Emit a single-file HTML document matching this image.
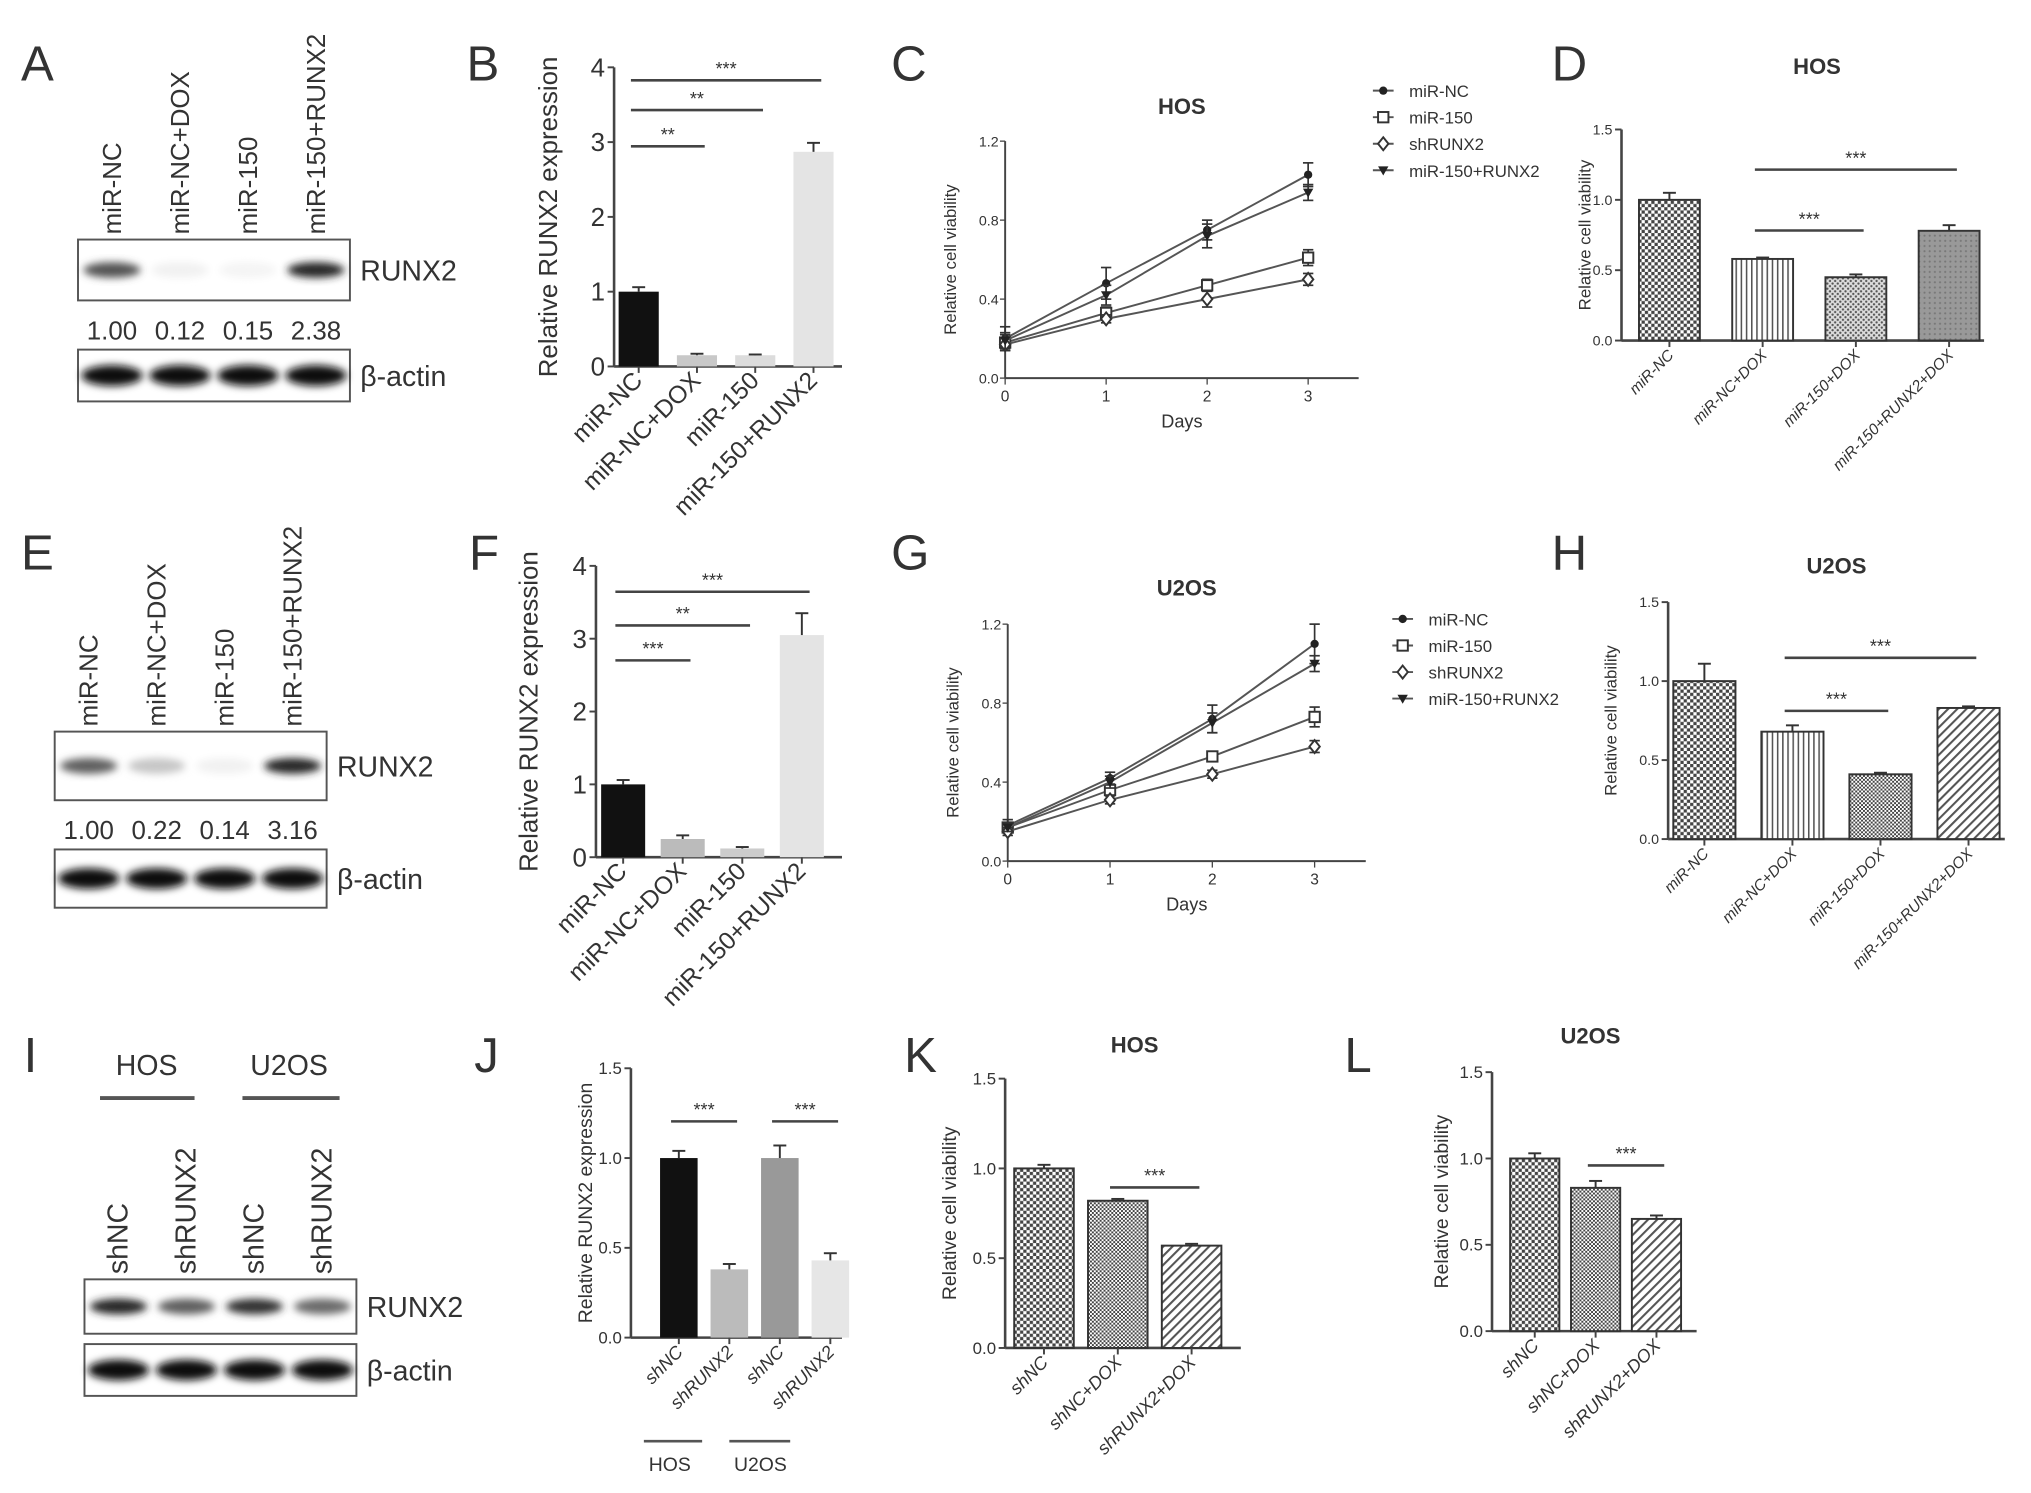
<!DOCTYPE html>
<html><head><meta charset="utf-8"><style>
html,body{margin:0;padding:0;background:#fff}
svg{display:block}
text{font-family:"Liberation Sans",sans-serif;fill:#333}
</style></head><body>
<svg id="fig" width="2031" height="1493" viewBox="0 0 1568 1153" xmlns="http://www.w3.org/2000/svg">
<defs>
<pattern id="pCheck" width="5" height="5" patternUnits="userSpaceOnUse"><rect width="5" height="5" fill="#fff"/><rect width="2.5" height="2.5" fill="#444"/><rect x="2.5" y="2.5" width="2.5" height="2.5" fill="#444"/></pattern>
<pattern id="pVert" width="4" height="4" patternUnits="userSpaceOnUse"><rect width="4" height="4" fill="#fff"/><rect width="1.2" height="4" fill="#555"/></pattern>
<pattern id="pDots" width="4" height="4" patternUnits="userSpaceOnUse"><rect width="4" height="4" fill="#ddd"/><circle cx="1" cy="1" r="0.9" fill="#555"/><circle cx="3" cy="3" r="0.9" fill="#555"/></pattern>
<pattern id="pGray" width="4" height="4" patternUnits="userSpaceOnUse"><rect width="4" height="4" fill="#999"/><circle cx="2" cy="2" r="0.8" fill="#777"/></pattern>
<pattern id="pDiag" width="5" height="5" patternUnits="userSpaceOnUse" patternTransform="rotate(45)"><rect width="5" height="5" fill="#fff"/><rect width="1.6" height="5" fill="#555"/></pattern>
<pattern id="pDense" width="3" height="3" patternUnits="userSpaceOnUse"><rect width="3" height="3" fill="#fff"/><rect width="1.5" height="1.5" fill="#444"/><rect x="1.5" y="1.5" width="1.5" height="1.5" fill="#444"/></pattern>
<filter id="blur" x="-20%" y="-50%" width="140%" height="200%"><feGaussianBlur stdDeviation="3"/></filter>
</defs>
</svg>
<script>
// ---------- data ----------
const bCats=["miR-NC","miR-NC+DOX","miR-150","miR-150+RUNX2"];
const bVals=[1.0,0.15,0.15,2.87];
const bErr=[0.06,0.02,0.01,0.12];
const fVals=[1.0,0.25,0.12,3.05];
const fErr=[0.06,0.05,0.02,0.30];
const dCats=["miR-NC","miR-NC+DOX","miR-150+DOX","miR-150+RUNX2+DOX"];
const dVals=[1.0,0.58,0.45,0.78];
const dErr=[0.05,0.01,0.02,0.04];
const hVals=[1.0,0.68,0.41,0.83];
const hErr=[0.11,0.04,0.01,0.01];
const jCats=["shNC","shRUNX2","shNC","shRUNX2"];
const jVals=[1.0,0.38,1.0,0.43];
const jErr=[0.04,0.03,0.07,0.04];
const kCats=["shNC","shNC+DOX","shRUNX2+DOX"];
const kVals=[1.0,0.82,0.57];
const kErr=[0.02,0.01,0.01];
const lVals=[1.0,0.83,0.65];
const lErr=[0.03,0.04,0.02];
const days=[0,1,2,3];
const seriesNames=["miR-NC","miR-150","shRUNX2","miR-150+RUNX2"];
const cNC=[0.20,0.48,0.75,1.03], cNCe=[0.06,0.08,0.05,0.06];
const c150=[0.18,0.33,0.47,0.61], c150e=[0.04,0.03,0.03,0.04];
const cSh=[0.17,0.30,0.40,0.50], cShe=[0.03,0.02,0.04,0.03];
const cCombo=[0.19,0.42,0.72,0.94], cComboe=[0.04,0.05,0.06,0.04];
const gNC=[0.18,0.42,0.72,1.10], gNCe=[0.03,0.03,0.07,0.10];
const g150=[0.17,0.36,0.53,0.73], g150e=[0.02,0.02,0.02,0.05];
const gSh=[0.15,0.31,0.44,0.58], gShe=[0.02,0.02,0.02,0.03];
const gCombo=[0.17,0.40,0.70,1.00], gComboe=[0.02,0.03,0.05,0.04];
const ticks4=[0,1,2,3,4];
const ticks15=[0,0.5,1.0,1.5];
const ticks12=[0,0.4,0.8,1.2];
const aBands=[0.75,0.06,0.05,0.95], aNums=["1.00","0.12","0.15","2.38"];
const eBands=[0.7,0.25,0.06,0.95], eNums=["1.00","0.22","0.14","3.16"];
const iBands=[0.95,0.7,0.9,0.65];

// ---------- helpers ----------
const svg=document.getElementById('fig');
const NS="http://www.w3.org/2000/svg";
function mk(tag,attrs,parent){const e=document.createElementNS(NS,tag);for(const k in attrs)e.setAttribute(k,attrs[k]);(parent||svg).appendChild(e);return e;}
function txt(s,x,y,size,opts,parent){opts=opts||{};const t=mk('text',{x:x,y:y,'font-size':size,'text-anchor':opts.anchor||'start'},parent);if(opts.rot)t.setAttribute('transform','rotate('+opts.rot+' '+x+' '+y+')');if(opts.italic)t.setAttribute('font-style','italic');if(opts.bold)t.setAttribute('font-weight','bold');if(opts.fill)t.setAttribute('fill',opts.fill);t.textContent=s;return t;}
function grp(name){const g=mk('g',{});return g;}

function panelLetter(L,x,y){const t=txt(L,x,y,38,{fill:'#222'});}

function blot(name,x0,boxW,yTop,labels,bands,nums,labSize,runxY,actinY){
  const g=grp(name);
  const step=boxW/4;
  labels.forEach((s,i)=>{const cx=x0+step*(i+0.5)+7;txt(s,cx,yTop-4,labSize,{rot:-90},g);});
  mk('rect',{x:x0,y:yTop,width:boxW,height:runxY,fill:'#fff',stroke:'#555','stroke-width':1.5},g);
  bands.forEach((v,i)=>{const cx=x0+step*(i+0.5);const c=Math.round(255-v*230);mk('ellipse',{cx:cx,cy:yTop+runxY/2,rx:step*0.42,ry:6,fill:'rgb('+c+','+c+','+c+')',filter:'url(#blur)'},g);});
  txt('RUNX2',x0+boxW+8,yTop+runxY/2+8,22,{},g);
  let y2=yTop+runxY+8;
  if(nums){nums.forEach((s,i)=>txt(s,x0+step*(i+0.5),yTop+runxY+30,20,{anchor:'middle'},g));y2=yTop+runxY+38;}
  mk('rect',{x:x0,y:y2,width:boxW,height:actinY,fill:'#fff',stroke:'#555','stroke-width':1.5},g);
  for(let i=0;i<4;i++){mk('ellipse',{cx:x0+step*(i+0.5),cy:y2+actinY/2,rx:step*0.45,ry:8,fill:'#111',filter:'url(#blur)'},g);}
  txt('β-actin',x0+boxW+8,y2+actinY/2+8,22,{},g);
}

function barChart(cfg){
  const g=grp(cfg.name);
  const ys=v=>cfg.y0-(v/cfg.ymax)*(cfg.y0-cfg.ytop);
  mk('line',{x1:cfg.ax,y1:cfg.y0,x2:cfg.ax,y2:cfg.ytop,stroke:'#444','stroke-width':2},g);
  mk('line',{x1:cfg.ax,y1:cfg.y0,x2:cfg.xend,y2:cfg.y0,stroke:'#444','stroke-width':2},g);
  cfg.ticks.forEach(t=>{const y=ys(t);mk('line',{x1:cfg.ax-5,y1:y,x2:cfg.ax,y2:y,stroke:'#444','stroke-width':1.5},g);txt(cfg.fmt(t),cfg.ax-7,y+cfg.tfs*0.35,cfg.tfs,{anchor:'end'},g);});
  txt(cfg.ylabel,cfg.ylx,(cfg.y0+cfg.ytop)/2,cfg.yfs,{anchor:'middle',rot:-90},g);
  if(cfg.title)txt(cfg.title,cfg.tx,cfg.ty,17,{anchor:'middle',bold:true},g);
  cfg.vals.forEach((v,i)=>{
    const cx=cfg.x0+cfg.step*i;const y=ys(v);
    const r=mk('rect',{x:cx-cfg.bw/2,y:y,width:cfg.bw,height:cfg.y0-y,fill:cfg.fills[i],stroke:cfg.stroke||'none','stroke-width':1.5},g);
    
    
    const ye=ys(v+cfg.err[i]);
    mk('line',{x1:cx,y1:y,x2:cx,y2:ye,stroke:'#333','stroke-width':1.5},g);
    mk('line',{x1:cx-5,y1:ye,x2:cx+5,y2:ye,stroke:'#333','stroke-width':1.5},g);
    mk('line',{x1:cx,y1:cfg.y0,x2:cx,y2:cfg.y0+5,stroke:'#444','stroke-width':1.5},g);
    txt(cfg.cats[i],cx+4,cfg.y0+12,cfg.xfs,{anchor:'end',rot:-45,italic:cfg.italic},g);
  });
  (cfg.sig||[]).forEach(s=>{const x1=cfg.x0+cfg.step*s[0]-6,x2=cfg.x0+cfg.step*s[1]+6;mk('line',{x1:x1,y1:s[2],x2:x2,y2:s[2],stroke:'#444','stroke-width':2},g);txt(s[3],(x1+x2)/2,s[2]-4,14,{anchor:'middle'},g);});
  return g;
}

function marker(g,type,x,y){
  if(type===0)mk('circle',{cx:x,cy:y,r:3.2,fill:'#222'},g);
  else if(type===1)mk('rect',{x:x-4,y:y-4,width:8,height:8,fill:'#fff',stroke:'#333','stroke-width':1.5},g);
  else if(type===2)mk('polygon',{points:(x)+','+(y-5)+' '+(x+4)+','+y+' '+x+','+(y+5)+' '+(x-4)+','+y,fill:'#fff',stroke:'#333','stroke-width':1.5},g);
  else mk('polygon',{points:(x-4)+','+(y-3)+' '+(x+4)+','+(y-3)+' '+x+','+(y+4),fill:'#222'},g);
}
function lineChart(cfg){
  const g=grp(cfg.name);
  const ys=v=>cfg.y0-(v/1.2)*(cfg.y0-cfg.ytop);
  const xs=d=>cfg.ax+d*cfg.dx;
  mk('line',{x1:cfg.ax,y1:cfg.y0,x2:cfg.ax,y2:cfg.ytop,stroke:'#444','stroke-width':1.5},g);
  mk('line',{x1:cfg.ax,y1:cfg.y0,x2:cfg.ax+3.5*cfg.dx,y2:cfg.y0,stroke:'#444','stroke-width':1.5},g);
  ticks12.forEach(t=>{const y=ys(t);mk('line',{x1:cfg.ax-4,y1:y,x2:cfg.ax,y2:y,stroke:'#444'},g);txt(t.toFixed(1),cfg.ax-5,y+4,11,{anchor:'end'},g);});
  days.forEach(d=>{mk('line',{x1:xs(d),y1:cfg.y0,x2:xs(d),y2:cfg.y0+5,stroke:'#444'},g);txt(String(d),xs(d),cfg.y0+18,12,{anchor:'middle'},g);});
  txt('Days',cfg.ax+1.75*cfg.dx,cfg.y0+38,14,{anchor:'middle'},g);
  txt('Relative cell viability',cfg.ax-38,(cfg.y0+cfg.ytop)/2,13,{anchor:'middle',rot:-90},g);
  txt(cfg.title,cfg.ax+1.75*cfg.dx,cfg.ty,17,{anchor:'middle',bold:true},g);
  cfg.series.forEach((s,k)=>{
    const sg=mk('g',{},g);
    
    
    mk('polyline',{points:days.map(d=>xs(d)+','+ys(s[d])).join(' '),fill:'none',stroke:'#555','stroke-width':1.5},sg);
    days.forEach(d=>{const x=xs(d),e=cfg.errs[k][d];mk('line',{x1:x,y1:ys(s[d]-e),x2:x,y2:ys(s[d]+e),stroke:'#333','stroke-width':1.3},sg);[s[d]-e,s[d]+e].forEach(v=>mk('line',{x1:x-4,y1:ys(v),x2:x+4,y2:ys(v),stroke:'#333','stroke-width':1.3},sg));marker(sg,k,x,ys(s[d]));});
  });
  const lg=grp(cfg.name+'-legend');
  seriesNames.forEach((n,k)=>{const y=cfg.ly+k*cfg.lstep;mk('line',{x1:cfg.lx-8,y1:y,x2:cfg.lx+8,y2:y,stroke:'#555','stroke-width':1.5},lg);marker(lg,k,cfg.lx,y);txt(n,cfg.lx+20,y+5,13,{},lg);});
}

// ---------- panels ----------
panelLetter('A',16,62);
blot('blot-a',60,210,185,bCats,aBands,aNums,20,47,40);
panelLetter('B',360,62);
barChart({name:'chart-b',ax:474,y0:283,ytop:52,ymax:4,xend:650,ticks:ticks4,fmt:t=>String(t),tfs:20,ylabel:'Relative RUNX2 expression',ylx:430,yfs:20,
 vals:bVals,err:bErr,cats:bCats,x0:493,step:45,bw:31,fills:['#111','#c8c8c8','#dcdcdc','#e4e4e4'],xfs:19,italic:false,
 sig:[[0,1,113,'**'],[0,2,85,'**'],[0,3,62,'***']]});
panelLetter('C',688,62);
lineChart({name:'chart-c',ax:776,y0:292,ytop:109,dx:78,title:'HOS',ty:88,series:[cNC,c150,cSh,cCombo],errs:[cNCe,c150e,cShe,cComboe],lx:1068,ly:70,lstep:20.5});
panelLetter('D',1198,62);
barChart({name:'chart-d',ax:1252,y0:263,ytop:100,ymax:1.5,xend:1532,ticks:ticks15,fmt:t=>t.toFixed(1),tfs:11,ylabel:'Relative cell viability',ylx:1228,yfs:13,title:'HOS',tx:1403,ty:57,
 vals:dVals,err:dErr,cats:dCats,x0:1289,step:72,bw:47,fills:['url(#pCheck)','url(#pVert)','url(#pDots)','url(#pGray)'],stroke:'#333',xfs:12,italic:true,
 sig:[[1,2,178,'***'],[1,3,131,'***']]});

panelLetter('E',16,440);
blot('blot-e',42,210,565,bCats,eBands,eNums,20,53,45);
panelLetter('F',362,440);
barChart({name:'chart-f',ax:460,y0:662,ytop:437,ymax:4,xend:650,ticks:ticks4,fmt:t=>String(t),tfs:20,ylabel:'Relative RUNX2 expression',ylx:415,yfs:20,
 vals:fVals,err:fErr,cats:bCats,x0:481,step:46,bw:34,fills:['#111','#bbb','#ccc','#e4e4e4'],xfs:19,italic:false,
 sig:[[0,1,510,'***'],[0,2,483,'**'],[0,3,457,'***']]});
panelLetter('G',688,440);
lineChart({name:'chart-g',ax:778,y0:665,ytop:482,dx:79,title:'U2OS',ty:460,series:[gNC,g150,gSh,gCombo],errs:[gNCe,g150e,gShe,gComboe],lx:1083,ly:478,lstep:20.5});
panelLetter('H',1198,440);
barChart({name:'chart-h',ax:1288,y0:648,ytop:465,ymax:1.5,xend:1548,ticks:ticks15,fmt:t=>t.toFixed(1),tfs:11,ylabel:'Relative cell viability',ylx:1248,yfs:13,title:'U2OS',tx:1418,ty:443,
 vals:hVals,err:hErr,cats:dCats,x0:1316,step:68,bw:48,fills:['url(#pCheck)','url(#pVert)','url(#pDense)','url(#pDiag)'],stroke:'#333',xfs:12,italic:true,
 sig:[[1,2,549,'***'],[1,3,508,'***']]});

panelLetter('I',18,828);
const gi=grp('blot-i-groups');
txt('HOS',113,830,22,{anchor:'middle'},gi);txt('U2OS',223,830,22,{anchor:'middle'},gi);
mk('line',{x1:77,y1:848,x2:150,y2:848,stroke:'#555','stroke-width':3},gi);
mk('line',{x1:187,y1:848,x2:262,y2:848,stroke:'#555','stroke-width':3},gi);
blot('blot-i',65,210,988,jCats,iBands,null,22,42,40);
panelLetter('J',366,828);
barChart({name:'chart-j',ax:487,y0:1033,ytop:825,ymax:1.5,xend:650,ticks:ticks15,fmt:t=>t.toFixed(1),tfs:13,ylabel:'Relative RUNX2 expression',ylx:457,yfs:15,
 vals:jVals,err:jErr,cats:jCats,x0:524,step:39,bw:29,fills:['#111','#bbb','#999','#e6e6e6'],xfs:14,italic:true,
 sig:[[0,1,866,'***'],[2,3,866,'***']]});
const gj=grp('chart-j-groups');
mk('line',{x1:497,y1:1113,x2:542,y2:1113,stroke:'#555','stroke-width':2},gj);
mk('line',{x1:563,y1:1113,x2:610,y2:1113,stroke:'#555','stroke-width':2},gj);
txt('HOS',517,1136,15,{anchor:'middle'},gj);txt('U2OS',587,1136,15,{anchor:'middle'},gj);
panelLetter('K',698,828);
barChart({name:'chart-k',ax:776,y0:1041,ytop:833,ymax:1.5,xend:958,ticks:ticks15,fmt:t=>t.toFixed(1),tfs:13,ylabel:'Relative cell viability',ylx:738,yfs:15,title:'HOS',tx:876,ty:813,
 vals:kVals,err:kErr,cats:kCats,x0:806,step:57,bw:46,fills:['url(#pCheck)','url(#pDense)','url(#pDiag)'],stroke:'#333',xfs:14,italic:true,
 sig:[[1,2,917,'***']]});
panelLetter('L',1038,828);
barChart({name:'chart-l',ax:1152,y0:1028,ytop:828,ymax:1.5,xend:1310,ticks:ticks15,fmt:t=>t.toFixed(1),tfs:13,ylabel:'Relative cell viability',ylx:1118,yfs:15,title:'U2OS',tx:1228,ty:806,
 vals:lVals,err:lErr,cats:kCats,x0:1185,step:47,bw:38,fills:['url(#pCheck)','url(#pDense)','url(#pDiag)'],stroke:'#333',xfs:14,italic:true,
 sig:[[1,2,900,'***']]});
</script>
</body></html>
